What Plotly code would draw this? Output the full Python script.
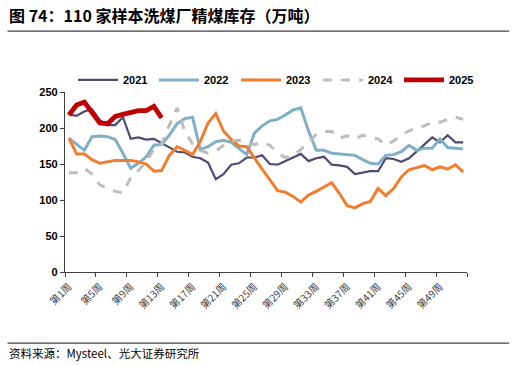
import plotly.graph_objects as go

weeks = list(range(1, 53))
tick_weeks = list(range(1, 53, 4))
tick_labels = [f"第{w}周" for w in tick_weeks]
boundary_ticks = [0.5 + 4 * k for k in range(14)]

y2021 = [219, 217, 223, 226, 211, 204, 204, 215, 185, 187, 184, 185, 179,
         173, 167, 166, 160, 158, 152, 129, 136, 149, 151, 159, 159, 162,
         150, 149, 154, 159, 164, 154, 158, 160, 149, 148, 146, 136, 138,
         140, 140, 158, 157, 153, 158, 168, 177, 187, 180, 190, 180, 180]
y2022 = [186, 177, 169, 188, 189, 188, 184, 165, 144, 151, 160, 176, 177,
         190, 206, 213, 215, 170, 174, 181, 183, 180, 172, 163, 193, 203,
         210, 212, 218, 225, 228, 196, 169, 169, 165, 164, 164, 162, 156,
         151, 150, 162, 163, 167, 176, 169, 172, 172, 185, 173, 172, 171]
y2023 = [186, 164, 164, 156, 151, 153, 155, 155, 155, 153, 150, 140, 141,
         162, 174, 169, 163, 181, 207, 220, 196, 184, 175, 174, 158, 143,
         128, 113, 111, 105, 97, 107, 112, 118, 124, 109, 92, 89, 95,
         98, 116, 106, 116, 132, 142, 145, 148, 142, 146, 143, 149, 139]
y2024 = [138, 138, 144, 136, 121, 116, 112, 110, 131, 141, 153, 171, 178,
         204, 228, 195, 178, 169, 165, 168, 176, 182, 183, 178, 177, 180,
         176, 165, 159, 162, 170, 181, 191, 195, 195, 186, 189, 185, 190,
         187, 185, 176, 182, 190, 196, 200, 203, 208, 208, 212, 215, 212]
y2025 = [218, 232, 236, 221, 207, 206, 216, 219, 221, 224, 224, 230, 214]

series = [
    ("2021", y2021, "#4F4A72", 2.2, "solid"),
    ("2022", y2022, "#7FB0C8", 3.0, "solid"),
    ("2023", y2023, "#F07E2E", 3.0, "solid"),
    ("2024", y2024, "#BDBDBD", 3.0, "dash"),
    ("2025", y2025, "#C00000", 4.8, "solid"),
]
legend_left_px = [73, 154, 236, 318, 399]

fig = go.Figure()
legend_layout = {}
for i, (name, ys, color, width, dash) in enumerate(series):
    lg = "legend" if i == 0 else f"legend{i + 1}"
    fig.add_trace(go.Scatter(
        x=weeks[:len(ys)], y=ys, name=name, mode="lines",
        line=dict(color=color, width=width, dash=dash), legend=lg,
    ))
    legend_layout[lg] = dict(
        orientation="h", xref="container", x=legend_left_px[i] / 516,
        xanchor="left", yref="container", y=0.781, yanchor="middle",
        font=dict(size=11, family="Liberation Sans, Arial", color="black",
                  weight="bold"),
        bgcolor="rgba(0,0,0,0)", itemwidth=40)

# invisible trace to activate the label axis
fig.add_trace(go.Scatter(x=[1], y=[0], xaxis="x2", showlegend=False,
                         mode="markers", marker=dict(opacity=0), hoverinfo="skip"))

axis_col = "#404040"
fig.update_layout(
    width=516, height=365,
    margin=dict(l=65, r=49, t=92, b=93, autoexpand=False),
    paper_bgcolor="white", plot_bgcolor="white",
    font=dict(family="Liberation Sans, Arial, sans-serif", color="black"),
    showlegend=True,
    xaxis=dict(range=[0.5, 52.5], tickmode="array", tickvals=boundary_ticks,
               ticktext=[""] * len(boundary_ticks), ticks="outside", ticklen=4,
               tickcolor=axis_col, showline=True, linecolor=axis_col, linewidth=1.3,
               showgrid=False, zeroline=False),
    xaxis2=dict(range=[0.5, 52.5], overlaying="x", side="bottom", tickmode="array",
                tickvals=tick_weeks, ticktext=tick_labels, tickangle=-45,
                ticks="", showline=False, showgrid=False, zeroline=False,
                tickfont=dict(size=10, color="#404040",
                              family="Noto Sans CJK SC"), ticklabelstandoff=6),
    yaxis=dict(range=[0, 250], tickvals=[0, 50, 100, 150, 200, 250],
               ticks="outside", ticklen=4, tickcolor=axis_col,
               showline=True, linecolor=axis_col, linewidth=1.3,
               showgrid=False, zeroline=False,
               tickfont=dict(size=11, family="Liberation Sans, Arial", weight="bold")),
    **legend_layout,
)

fig.add_annotation(text="<b>图 74：110 家样本洗煤厂精煤库存（万吨）</b>",
                   xref="paper", yref="paper", x=-0.145, y=1.428,
                   xanchor="left", yanchor="middle", showarrow=False,
                   font=dict(size=16, family="Noto Sans CJK SC", color="black"))
fig.add_annotation(text="资料来源：Mysteel、光大证券研究所",
                   xref="paper", yref="paper", x=-0.145, y=-0.448,
                   xanchor="left", yanchor="middle", showarrow=False,
                   font=dict(size=11.5, family="Noto Sans CJK SC", color="black"))
fig.add_shape(type="line", xref="paper", yref="paper", x0=-0.143, x1=1.105,
              y0=1.338, y1=1.338, line=dict(color="#404040", width=1.2))
fig.add_shape(type="line", xref="paper", yref="paper", x0=-0.143, x1=1.105,
              y0=-0.395, y1=-0.395, line=dict(color="#404040", width=1.2))

fig.write_html("out.html", config={"displayModeBar": False},
               post_script="document.body.style.margin='0px';")
